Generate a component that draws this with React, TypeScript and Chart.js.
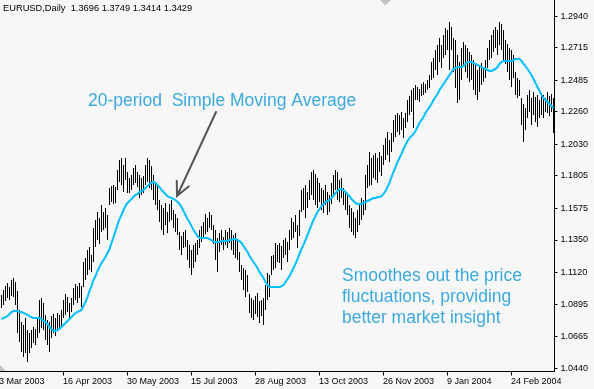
import { useEffect, useRef } from 'react';
import { Chart, registerables } from 'chart.js';

Chart.register(...registerables);

const symbolTitle = 'EURUSD,Daily';
const lastQuote = ['1.3696', '1.3749', '1.3414', '1.3429'];

const highs = [
  1.0960, 1.0995, 1.1023, 1.1045, 1.1016, 1.1066, 1.1080, 1.1052, 1.0988, 1.0853,
  1.0768, 1.0747, 1.0796, 1.0711, 1.0690, 1.0711, 1.0732, 1.0718, 1.0796, 1.0924,
  1.0938, 1.0903, 1.0818, 1.0782, 1.0768, 1.0810, 1.0825, 1.0796, 1.0832, 1.0818,
  1.0853, 1.0924, 1.0967, 1.0945, 1.0903, 1.0938, 1.1009, 1.1038, 1.1023, 1.1045,
  1.1023, 1.1194, 1.1222, 1.1279, 1.1300, 1.1244, 1.1435, 1.1492, 1.1549, 1.1506,
  1.1599, 1.1549, 1.1577, 1.1528, 1.1719, 1.1733, 1.1741, 1.1726, 1.1847, 1.1918,
  1.1932, 1.1883, 1.1932, 1.1833, 1.1790, 1.1812, 1.1861, 1.1883, 1.1833, 1.1812,
  1.1790, 1.1804, 1.1883, 1.1932, 1.1918, 1.1875, 1.1812, 1.1755, 1.1733, 1.1634,
  1.1599, 1.1577, 1.1613, 1.1549, 1.1606, 1.1634, 1.1563, 1.1535, 1.1506, 1.1407,
  1.1378, 1.1407, 1.1421, 1.1350, 1.1315, 1.1279, 1.1315, 1.1329, 1.1350, 1.1421,
  1.1449, 1.1478, 1.1535, 1.1506, 1.1549, 1.1528, 1.1457, 1.1421, 1.1364, 1.1400,
  1.1421, 1.1371, 1.1421, 1.1407, 1.1435, 1.1421, 1.1386, 1.1400, 1.1350, 1.1265,
  1.1173, 1.1151, 1.1137, 1.1102, 1.0967, 1.0938, 1.0924, 1.0952, 1.0974, 1.0917,
  1.0924, 1.0938, 1.1031, 1.1116, 1.1102, 1.1236, 1.1244, 1.1329, 1.1315, 1.1329,
  1.1307, 1.1350, 1.1364, 1.1336, 1.1421, 1.1506, 1.1478, 1.1528, 1.1457, 1.1563,
  1.1705, 1.1719, 1.1741, 1.1691, 1.1776, 1.1833, 1.1847, 1.1819, 1.1790, 1.1755,
  1.1719, 1.1705, 1.1741, 1.1691, 1.1670, 1.1755, 1.1812, 1.1847, 1.1833, 1.1776,
  1.1790, 1.1719, 1.1691, 1.1670, 1.1599, 1.1577, 1.1549, 1.1506, 1.1563, 1.1599,
  1.1648, 1.1634, 1.1812, 1.1883, 1.1975, 1.1932, 1.1954, 1.1968, 1.1932, 1.1975,
  1.1946, 1.2025, 1.2074, 1.2117, 1.2060, 1.2110, 1.2202, 1.2238, 1.2252, 1.2238,
  1.2259, 1.2216, 1.2252, 1.2344, 1.2372, 1.2415, 1.2429, 1.2450, 1.2436, 1.2422,
  1.2458, 1.2472, 1.2458, 1.2486, 1.2521, 1.2614, 1.2642, 1.2699, 1.2735, 1.2784,
  1.2735, 1.2806, 1.2855, 1.2841, 1.2898, 1.2862, 1.2784, 1.2770, 1.2664, 1.2614,
  1.2713, 1.2756, 1.2735, 1.2713, 1.2685, 1.2664, 1.2628, 1.2600, 1.2557, 1.2593,
  1.2607, 1.2571, 1.2628, 1.2713, 1.2770, 1.2806, 1.2841, 1.2862, 1.2841, 1.2898,
  1.2884, 1.2841, 1.2770, 1.2742, 1.2713, 1.2699, 1.2664, 1.2543, 1.2500, 1.2486,
  1.2358, 1.2316, 1.2287, 1.2380, 1.2415, 1.2358, 1.2401, 1.2365, 1.2380, 1.2344,
  1.2394, 1.2380, 1.2358, 1.2401, 1.2372, 1.2387, 1.2358,
];

const lows = [
  1.0867, 1.0889, 1.0917, 1.0938, 1.0924, 1.0952, 1.0945, 1.0889, 1.0690, 1.0626,
  1.0555, 1.0519, 1.0548, 1.0484, 1.0548, 1.0583, 1.0619, 1.0605, 1.0654, 1.0690,
  1.0725, 1.0711, 1.0640, 1.0605, 1.0555, 1.0654, 1.0690, 1.0668, 1.0711, 1.0725,
  1.0739, 1.0796, 1.0818, 1.0839, 1.0782, 1.0839, 1.0889, 1.0924, 1.0903, 1.0938,
  1.0874, 1.1016, 1.1066, 1.1102, 1.1137, 1.1123, 1.1194, 1.1300, 1.1350, 1.1322,
  1.1407, 1.1421, 1.1435, 1.1350, 1.1599, 1.1620, 1.1606, 1.1613, 1.1705, 1.1762,
  1.1741, 1.1691, 1.1776, 1.1684, 1.1684, 1.1705, 1.1741, 1.1755, 1.1726, 1.1648,
  1.1670, 1.1684, 1.1741, 1.1762, 1.1719, 1.1705, 1.1634, 1.1599, 1.1563, 1.1478,
  1.1421, 1.1386, 1.1457, 1.1400, 1.1478, 1.1492, 1.1435, 1.1407, 1.1386, 1.1279,
  1.1244, 1.1293, 1.1300, 1.1208, 1.1151, 1.1102, 1.1151, 1.1194, 1.1244, 1.1293,
  1.1336, 1.1364, 1.1393, 1.1407, 1.1435, 1.1421, 1.1322, 1.1208, 1.1123, 1.1265,
  1.1315, 1.1279, 1.1315, 1.1293, 1.1329, 1.1279, 1.1244, 1.1222, 1.1208, 1.1123,
  1.1066, 1.0995, 1.0945, 1.0981, 1.0832, 1.0796, 1.0782, 1.0825, 1.0803, 1.0761,
  1.0810, 1.0747, 1.0853, 1.0924, 1.0945, 1.1102, 1.1137, 1.1151, 1.1194, 1.1187,
  1.1137, 1.1222, 1.1244, 1.1194, 1.1279, 1.1350, 1.1364, 1.1407, 1.1293, 1.1378,
  1.1549, 1.1563, 1.1506, 1.1577, 1.1634, 1.1670, 1.1634, 1.1599, 1.1577, 1.1620,
  1.1563, 1.1542, 1.1599, 1.1528, 1.1549, 1.1606, 1.1670, 1.1705, 1.1634, 1.1620,
  1.1648, 1.1599, 1.1563, 1.1528, 1.1435, 1.1407, 1.1386, 1.1364, 1.1407, 1.1457,
  1.1492, 1.1528, 1.1563, 1.1719, 1.1733, 1.1741, 1.1790, 1.1776, 1.1755, 1.1833,
  1.1804, 1.1883, 1.1918, 1.1954, 1.1904, 1.1975, 1.2046, 1.2081, 1.2117, 1.2096,
  1.2131, 1.2074, 1.2145, 1.2188, 1.2238, 1.2259, 1.2145, 1.2344, 1.2344, 1.2330,
  1.2372, 1.2380, 1.2394, 1.2415, 1.2429, 1.2486, 1.2500, 1.2557, 1.2521, 1.2614,
  1.2571, 1.2642, 1.2664, 1.2699, 1.2557, 1.2699, 1.2543, 1.2429, 1.2323, 1.2344,
  1.2486, 1.2593, 1.2543, 1.2500, 1.2472, 1.2486, 1.2415, 1.2380, 1.2344, 1.2401,
  1.2450, 1.2472, 1.2500, 1.2571, 1.2628, 1.2642, 1.2685, 1.2713, 1.2664, 1.2735,
  1.2699, 1.2614, 1.2600, 1.2543, 1.2486, 1.2436, 1.2500, 1.2380, 1.2358, 1.2372,
  1.2167, 1.2046, 1.2131, 1.2216, 1.2259, 1.2167, 1.2238, 1.2188, 1.2152, 1.2216,
  1.2238, 1.2216, 1.2259, 1.2252, 1.2230, 1.2259, 1.2110,
];

const sma20 = [
  1.0789, 1.0796, 1.0803, 1.0810, 1.0825, 1.0839, 1.0846, 1.0846, 1.0846, 1.0839,
  1.0839, 1.0832, 1.0825, 1.0818, 1.0810, 1.0803, 1.0796, 1.0796, 1.0796, 1.0796,
  1.0789, 1.0775, 1.0768, 1.0754, 1.0732, 1.0718, 1.0704, 1.0704, 1.0711, 1.0718,
  1.0732, 1.0747, 1.0761, 1.0775, 1.0789, 1.0803, 1.0818, 1.0832, 1.0839, 1.0846,
  1.0853, 1.0881, 1.0910, 1.0945, 1.0988, 1.1023, 1.1066, 1.1094, 1.1130, 1.1158,
  1.1187, 1.1208, 1.1229, 1.1258, 1.1286, 1.1329, 1.1371, 1.1414, 1.1457, 1.1499,
  1.1528, 1.1563, 1.1591, 1.1613, 1.1627, 1.1641, 1.1655, 1.1670, 1.1677, 1.1691,
  1.1698, 1.1705, 1.1719, 1.1733, 1.1748, 1.1755, 1.1762, 1.1755, 1.1741, 1.1726,
  1.1705, 1.1691, 1.1677, 1.1662, 1.1655, 1.1648, 1.1641, 1.1634, 1.1620, 1.1606,
  1.1584, 1.1556, 1.1528, 1.1499, 1.1478, 1.1449, 1.1421, 1.1400, 1.1378, 1.1364,
  1.1364, 1.1364, 1.1364, 1.1364, 1.1357, 1.1350, 1.1336, 1.1336, 1.1336, 1.1336,
  1.1343, 1.1343, 1.1343, 1.1343, 1.1350, 1.1350, 1.1357, 1.1357, 1.1350, 1.1343,
  1.1329, 1.1307, 1.1286, 1.1265, 1.1236, 1.1215, 1.1194, 1.1173, 1.1151, 1.1123,
  1.1102, 1.1080, 1.1052, 1.1031, 1.1016, 1.1016, 1.1016, 1.1016, 1.1016, 1.1016,
  1.1023, 1.1031, 1.1052, 1.1073, 1.1094, 1.1123, 1.1151, 1.1180, 1.1215, 1.1251,
  1.1286, 1.1315, 1.1350, 1.1386, 1.1421, 1.1457, 1.1492, 1.1520, 1.1549, 1.1570,
  1.1591, 1.1606, 1.1620, 1.1627, 1.1634, 1.1648, 1.1662, 1.1684, 1.1698, 1.1712,
  1.1712, 1.1705, 1.1691, 1.1677, 1.1662, 1.1641, 1.1627, 1.1613, 1.1606, 1.1606,
  1.1606, 1.1613, 1.1620, 1.1627, 1.1634, 1.1641, 1.1648, 1.1648, 1.1655, 1.1655,
  1.1662, 1.1677, 1.1698, 1.1726, 1.1755, 1.1797, 1.1833, 1.1868, 1.1904, 1.1932,
  1.1961, 1.1996, 1.2025, 1.2053, 1.2074, 1.2088, 1.2103, 1.2124, 1.2152, 1.2181,
  1.2202, 1.2223, 1.2252, 1.2273, 1.2294, 1.2316, 1.2344, 1.2365, 1.2387, 1.2415,
  1.2436, 1.2458, 1.2479, 1.2500, 1.2521, 1.2543, 1.2564, 1.2571, 1.2578, 1.2578,
  1.2578, 1.2585, 1.2600, 1.2614, 1.2614, 1.2614, 1.2607, 1.2600, 1.2593, 1.2585,
  1.2578, 1.2571, 1.2564, 1.2557, 1.2550, 1.2550, 1.2557, 1.2564, 1.2578, 1.2600,
  1.2614, 1.2621, 1.2621, 1.2621, 1.2621, 1.2621, 1.2628, 1.2635, 1.2635, 1.2635,
  1.2621, 1.2600, 1.2585, 1.2564, 1.2543, 1.2521, 1.2493, 1.2465, 1.2436, 1.2408,
  1.2380, 1.2358, 1.2344, 1.2330, 1.2316, 1.2301, 1.2287,
];

const yTicks = [1.294, 1.2715, 1.2485, 1.226, 1.203, 1.1805, 1.1575, 1.135, 1.112, 1.0895, 1.0665, 1.044];
const yMin = 1.042;
const yMax = 1.3054;

const xTickLabels = ['3 Mar 2003', '16 Apr 2003', '30 May 2003', '15 Jul 2003', '28 Aug 2003', '13 Oct 2003', '26 Nov 2003', '9 Jan 2004', '24 Feb 2004'];
const xTickIndex = [-1, 31, 63, 95, 127, 159, 191, 223, 255];

const maCaption = '20-period  Simple Moving Average';
const noteLines = ['Smoothes out the price', 'fluctuations, providing', 'better market insight'];

const MONTHS = ['Jan', 'Feb', 'Mar', 'Apr', 'May', 'Jun', 'Jul', 'Aug', 'Sep', 'Oct', 'Nov', 'Dec'];
function tradingDays(start: Date, n: number): string[] {
  const out: string[] = [];
  const d = new Date(start.getTime());
  while (out.length < n) {
    const wd = d.getDay();
    if (wd !== 0 && wd !== 6) out.push(`${d.getDate()} ${MONTHS[d.getMonth()]} ${d.getFullYear()}`);
    d.setDate(d.getDate() + 1);
  }
  return out;
}
const categories = tradingDays(new Date(2003, 2, 4), highs.length);

const BG = '#f7f7f7';
const TEXT_BLUE = '#3ca9dd';
const AXIS_FONT = '"Liberation Sans", Arial, sans-serif';

const decorPlugin = {
  id: 'decor',
  beforeDraw(chart: any) {
    const ctx = chart.ctx;
    ctx.save();
    ctx.fillStyle = BG;
    ctx.fillRect(0, 0, chart.width, chart.height);
    ctx.restore();
  },
  afterDraw(chart: any) {
    const ctx = chart.ctx;
    const area = chart.chartArea;
    const xs = chart.scales.x;
    ctx.save();

    // x axis line
    ctx.strokeStyle = '#000';
    ctx.lineWidth = 1;
    const by = Math.round(area.bottom) + 0.5;
    ctx.beginPath();
    ctx.moveTo(0, by);
    ctx.lineTo(area.right, by);
    ctx.stroke();

    // x ticks + labels
    ctx.font = `9px ${AXIS_FONT}`;
    ctx.fillStyle = '#000';
    ctx.textAlign = 'left';
    ctx.textBaseline = 'alphabetic';
    xTickIndex.forEach((idx, k) => {
      const px = Math.floor(xs.getPixelForValue(idx)) + 0.5;
      ctx.beginPath();
      ctx.moveTo(px, by);
      ctx.lineTo(px, by + 4);
      ctx.stroke();
      ctx.fillText(xTickLabels[k], px - 0.5, 384);
    });

    // header
    ctx.font = `9.3px ${AXIS_FONT}`;
    ctx.fillText(`${symbolTitle}  ${lastQuote.join(' ')}`, 3, 10.5);

    // chart shift marker and corner marker
    ctx.fillStyle = '#c4c4c4';
    ctx.beginPath();
    ctx.moveTo(380, 0);
    ctx.lineTo(391, 0);
    ctx.lineTo(385.5, 5.5);
    ctx.closePath();
    ctx.fill();
    ctx.beginPath();
    ctx.moveTo(0, 365);
    ctx.lineTo(0, 371);
    ctx.lineTo(6, 371);
    ctx.closePath();
    ctx.fill();

    // annotations
    ctx.fillStyle = TEXT_BLUE;
    ctx.font = `17.5px ${AXIS_FONT}`;
    ctx.fillText(maCaption, 88, 106);
    noteLines.forEach((line, k) => ctx.fillText(line, 342, 281 + k * 21));

    // arrow
    const x0 = 216, y0 = 112, x1 = 177, y1 = 196;
    ctx.strokeStyle = '#555555';
    ctx.lineWidth = 2;
    ctx.lineCap = 'round';
    ctx.beginPath();
    ctx.moveTo(x0, y0);
    ctx.lineTo(x1, y1);
    const back = Math.atan2(y0 - y1, x0 - x1);
    const len = 15, spread = 0.45;
    ctx.moveTo(x1 + len * Math.cos(back - spread), y1 + len * Math.sin(back - spread));
    ctx.lineTo(x1, y1);
    ctx.lineTo(x1 + len * Math.cos(back + spread), y1 + len * Math.sin(back + spread));
    ctx.stroke();

    ctx.restore();
  },
};

export default function App() {
  const ref = useRef<HTMLCanvasElement>(null);
  useEffect(() => {
    const canvas = ref.current;
    if (!canvas) return;
    const chart = new Chart(canvas, {
      type: 'bar',
      data: {
        labels: categories,
        datasets: [
          {
            type: 'line',
            label: 'SMA 20',
            data: sma20,
            borderColor: '#00bfff',
            borderWidth: 2,
            pointRadius: 0,
            tension: 0,
            fill: false,
          } as any,
          {
            type: 'bar',
            label: 'EURUSD',
            data: lows.map((lo, i) => [lo, highs[i]]),
            backgroundColor: '#000000',
            borderWidth: 0,
            barThickness: 1,
            inflateAmount: 0,
          } as any,
        ],
      },
      options: {
        animation: false,
        responsive: false,
        devicePixelRatio: 1,
        events: [],
        layout: { padding: { left: 0.5, right: 0, top: 0, bottom: 18 } },
        plugins: { legend: { display: false }, tooltip: { enabled: false } },
        scales: {
          x: { display: false, offset: true },
          y: {
            position: 'right',
            min: yMin,
            max: yMax,
            afterBuildTicks: (s: any) => {
              s.ticks = yTicks.map((v) => ({ value: v }));
            },
            afterFit: (s: any) => {
              s.width = 39.5;
              s.paddingTop = 0;
              s.paddingBottom = 0;
            },
            ticks: {
              autoSkip: false,
              padding: 3,
              color: '#000',
              font: { family: '"Liberation Sans", Arial, sans-serif', size: 9 },
              callback: (v: any) => Number(v).toFixed(4),
            },
            grid: { drawOnChartArea: false, drawTicks: true, tickLength: 3, color: '#000' },
            border: { display: true, color: '#000', width: 1 },
          },
        },
      } as any,
      plugins: [decorPlugin],
    });
    return () => chart.destroy();
  }, []);
  return (
    <div style={{ position: 'fixed', left: 0, top: 0, width: 594, height: 389, background: BG }}>
      <canvas ref={ref} width={594} height={389} style={{ display: 'block', width: 594, height: 389 }} />
    </div>
  );
}
